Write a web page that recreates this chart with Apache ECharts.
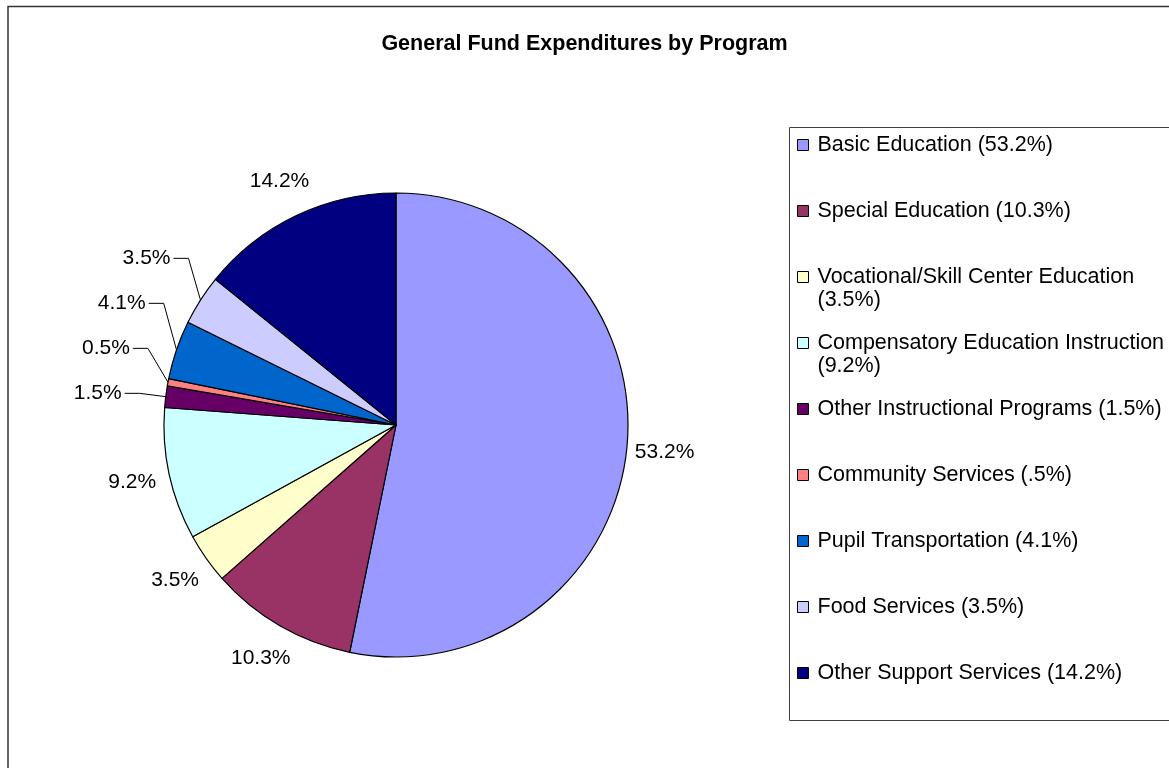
<!DOCTYPE html>
<html>
<head>
<meta charset="utf-8">
<title>General Fund Expenditures by Program</title>
<script src="https://cdn.jsdelivr.net/npm/echarts@6/dist/echarts.min.js"></script>
<style>
  html, body { margin: 0; padding: 0; background: #fff; }
  #chart { width: 1169px; height: 768px; }
</style>
</head>
<body>
<div id="chart"></div>
<script>
// Program categories, as listed in the legend
const categories = [
  'Basic Education (53.2%)',
  'Special Education (10.3%)',
  'Vocational/Skill Center Education (3.5%)',
  'Compensatory Education Instruction (9.2%)',
  'Other Instructional Programs (1.5%)',
  'Community Services (.5%)',
  'Pupil Transportation (4.1%)',
  'Food Services (3.5%)',
  'Other Support Services (14.2%)'
];
// Share of general fund expenditures, percent
const shares = [53.2, 10.3, 3.5, 9.2, 1.5, 0.5, 4.1, 3.5, 14.2];
// Slice colours
const colors = ['#9999FF', '#993366', '#FFFFCC', '#CCFFFF', '#660066', '#FF8080', '#0066CC', '#CCCCFF', '#000080'];
// Slices whose labels are pulled away and joined by a leader line
const leaderLabels = [
  'Other Instructional Programs (1.5%)',
  'Community Services (.5%)',
  'Pupil Transportation (4.1%)',
  'Food Services (3.5%)'
];

const FONT = '"Liberation Sans", Arial, Helvetica, sans-serif';
const LABEL_FONT = 21;
const TEXT_FONT = 21.5;
const CX = 396, CY = 425, R = 232;      // pie geometry (px)
const LABEL_R = R + 38;                  // radius of ordinary label centres
const LEADER_R = R + 68;                 // radius of pulled-out label centres
const LEADER_DY = 5;                     // small downward nudge of pulled-out labels
const LEADER_GAP = 45;                   // min vertical spacing of pulled-out labels

// Mid angle of every slice, clockwise from 12 o'clock
const total = shares.reduce((a, b) => a + b, 0);
const midAngles = [];
let acc = 0;
shares.forEach(v => { midAngles.push((acc + v / 2) / total * Math.PI * 2); acc += v; });

// Label centres: ordinary labels sit on a ring outside the pie; leader labels sit
// further out and are stacked upward so they never collide.
const labelPos = midAngles.map(a => ({
  x: CX + Math.sin(a) * LABEL_R,
  y: CY - Math.cos(a) * LABEL_R,
  leader: false
}));
const leaderIdx = categories
  .map((c, i) => i)
  .filter(i => leaderLabels.indexOf(categories[i]) >= 0);
const natural = leaderIdx.map(i => ({
  i,
  x: CX + Math.sin(midAngles[i]) * LEADER_R,
  y: CY - Math.cos(midAngles[i]) * LEADER_R + LEADER_DY
})).sort((p, q) => q.y - p.y);
let prevY = Infinity;
natural.forEach(p => {
  const y = Math.min(p.y, prevY - LEADER_GAP);
  const side = p.x < CX ? -1 : 1;
  const dy = y - CY;
  const x = CX + side * Math.sqrt(Math.max(LEADER_R * LEADER_R - dy * dy, 0));
  labelPos[p.i] = { x, y, leader: true, side };
  prevY = y;
});

const pieData = categories.map((name, i) => ({
  name,
  value: shares[i],
  itemStyle: { color: colors[i] },
  labelLine: { show: labelPos[i].leader }
}));

// Legend: one block per entry on a fixed vertical pitch; wrapped entries get a
// blank leading line so their first line stays beside the swatch.
const LEGEND_LH = 23, LEGEND_W = 360, LEGEND_TOP = 145, LEGEND_PITCH = 66;
const measureCtx = document.createElement('canvas').getContext('2d');
measureCtx.font = TEXT_FONT + 'px ' + FONT;
const legends = categories.map((name, i) => {
  const lines = measureCtx.measureText(name).width > LEGEND_W ? 2 : 1;
  const block = LEGEND_LH * (2 * lines - 1);
  return {
    data: [name],
    orient: 'vertical',
    left: 797,
    top: LEGEND_TOP + LEGEND_PITCH * i - block / 2,
    padding: 0,
    icon: 'rect',
    itemWidth: 11,
    itemHeight: 11,
    selectedMode: false,
    itemStyle: { borderColor: '#000', borderWidth: 1 },
    formatter: n => (lines > 1 ? '\n' : '') + n,
    textStyle: {
      fontFamily: FONT,
      fontSize: TEXT_FONT,
      color: '#000',
      lineHeight: LEGEND_LH,
      width: LEGEND_W,
      overflow: 'break',
      padding: [0, 0, 0, 4]
    }
  };
});

const chart = echarts.init(document.getElementById('chart'), null, { renderer: 'canvas' });
chart.setOption({
  backgroundColor: '#fff',
  animation: false,
  title: {
    text: 'General Fund Expenditures by Program',
    left: 'center',
    top: 33,
    padding: 0,
    textStyle: { fontFamily: FONT, fontSize: TEXT_FONT, fontWeight: 'bold', color: '#000' }
  },
  legend: legends,
  graphic: [
    {
      type: 'rect',
      shape: { x: 8, y: 6.5, width: 1300, height: 900 },
      style: { fill: 'none', stroke: '#333', lineWidth: 1.5 },
      silent: true
    },
    {
      type: 'rect',
      shape: { x: 789.5, y: 127.5, width: 500, height: 593 },
      style: { fill: 'none', stroke: '#404040', lineWidth: 1 },
      silent: true,
      z: -1
    }
  ],
  series: [{
    type: 'pie',
    center: [CX, CY],
    radius: R,
    startAngle: 90,
    clockwise: true,
    avoidLabelOverlap: false,
    emphasis: { disabled: true },
    itemStyle: { borderColor: '#000', borderWidth: 1.2 },
    label: {
      show: true,
      position: 'outside',
      fontFamily: FONT,
      fontSize: LABEL_FONT,
      color: '#000',
      formatter: p => p.value.toFixed(1) + '%'
    },
    labelLine: { show: false, lineStyle: { color: '#000', width: 1 } },
    labelLayout: params => {
      const i = params.dataIndex;
      const pos = labelPos[i];
      const out = { x: pos.x, y: pos.y, align: 'center', verticalAlign: 'middle' };
      if (pos.leader) {
        const half = params.labelRect.width / 2;
        const a = midAngles[i];
        const edge = [CX + Math.sin(a) * R, CY - Math.cos(a) * R];
        const start = [pos.x - pos.side * (half + 3), pos.y];
        const elbow = [start[0] - pos.side * 15, pos.y];
        out.labelLinePoints = [edge, elbow, start];
      }
      return out;
    },
    data: pieData
  }]
});
</script>
</body>
</html>
